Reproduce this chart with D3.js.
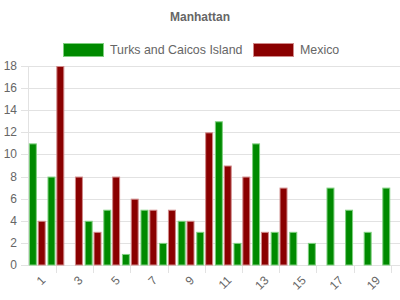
<!DOCTYPE html>
<html>
<head>
<meta charset="utf-8">
<script src="https://cdn.jsdelivr.net/npm/d3@7"></script>
<style>
  body { margin: 0; background: #fff; }
  text { font-family: "Liberation Sans", Arial, sans-serif; fill: #666; }
</style>
</head>
<body>
<div id="chart"></div>
<script>
const categories = d3.range(1, 21).map(String)
const seriesNames = ["Turks and Caicos Island", "Mexico"]
const turks = [11, 8, 0, 4, 5, 1, 5, 2, 4, 3, 13, 2, 11, 3, 3, 2, 7, 5, 3, 7]
const mexico = [4, 18, 8, 3, 8, 6, 5, 5, 4, 12, 9, 8, 3, 7, 0, 0, 0, 0, 0, 0]
const yTicks = [0, 2, 4, 6, 8, 10, 12, 14, 16, 18]
const fills = ["#008a00", "#8a0000"]
const strokes = ["#7fcf7f", "#d08a8a"]

let width = 400, height = 300
let svg = d3.select("#chart").append("svg")
        .attr("width", width).attr("height", height)

let x = d3.scaleBand().domain(categories).range([28, 400])
let xs = d3.scaleBand().domain([0, 1]).range([0, x.bandwidth()]).padding(0.1)
let y = d3.scaleLinear().domain([0, 18]).range([265, 66])

// title
svg.append("text").attr("x", 200).attr("y", 21).attr("text-anchor", "middle")
        .style("font-size", "12px").style("font-weight", "bold").text("Manhattan")

// legend
let legendX = [63, 253]
seriesNames.forEach((name, i) => {
        svg.append("rect").attr("x", legendX[i] + 0.5).attr("y", 43.5).attr("width", 40).attr("height", 13)
                .attr("fill", fills[i]).attr("stroke", strokes[i])
        svg.append("text").attr("x", legendX[i] + 47).attr("y", 54)
                .style("font-size", "12.4px").text(name)
})

// grid + y labels
let grid = svg.append("g")
grid.selectAll("line").data(yTicks).enter().append("line")
        .attr("x1", 21).attr("x2", 400)
        .attr("y1", d => Math.round(y(d)) + 0.5).attr("y2", d => Math.round(y(d)) + 0.5)
        .attr("stroke", "#e2e2e2")
grid.selectAll("text").data(yTicks).enter().append("text")
        .attr("x", 17).attr("y", d => y(d) + 4).attr("text-anchor", "end")
        .style("font-size", "12px").text(d => d)
svg.append("line").attr("x1", 28.5).attr("x2", 28.5).attr("y1", 66).attr("y2", 266)
        .attr("stroke", "#e2e2e2")

// x ticks at even categories, labels at odd ones
let evens = categories.filter((c, i) => i % 2 === 1)
let odds = categories.filter((c, i) => i % 2 === 0)
svg.append("g").selectAll("line").data(evens).enter().append("line")
        .attr("x1", d => Math.round(x(d) + x.bandwidth() / 2) + 0.5)
        .attr("x2", d => Math.round(x(d) + x.bandwidth() / 2) + 0.5)
        .attr("y1", 265).attr("y2", 273).attr("stroke", "#e2e2e2")
svg.append("g").selectAll("text").data(odds).enter().append("text")
        .attr("transform", d => "translate(" + (x(d) + x.bandwidth() / 2 + 6) + ",278) rotate(-45)")
        .attr("text-anchor", "end").attr("dy", "0.35em")
        .style("font-size", "12px").text(d => d)

// bars
let series = [turks, mexico]
series.forEach((vals, s) => {
        let data = vals.map((v, i) => ({ cat: categories[i], v: v })).filter(d => d.v > 0)
        svg.append("g").selectAll("rect").data(data).enter().append("rect")
                .attr("x", d => x(d.cat) + xs(s) + 0.5)
                .attr("width", xs.bandwidth() - 1)
                .attr("y", d => y(d.v) + 0.5)
                .attr("height", d => y(0) - y(d.v) - 0.5)
                .attr("fill", fills[s]).attr("stroke", strokes[s])
})
</script>
</body>
</html>
